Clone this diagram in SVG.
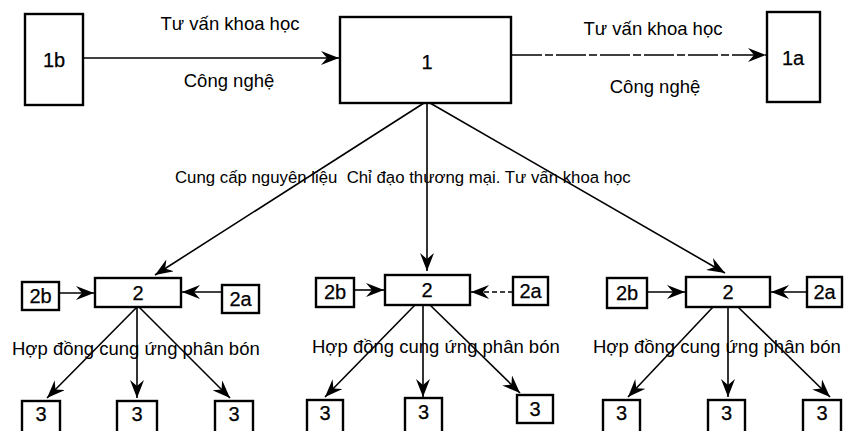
<svg xmlns="http://www.w3.org/2000/svg" width="844" height="431" viewBox="0 0 844 431">
<defs>
<marker id="ah" markerUnits="userSpaceOnUse" markerWidth="20" markerHeight="14" refX="18" refY="7" orient="auto">
<path d="M0,0 L18,7 L0,14 L6,7 z" fill="#000"/>
</marker>
<style>
.box{fill:#fff;stroke:#000;stroke-width:2.4}
.ln{fill:none;stroke:#000;stroke-width:1.6;marker-end:url(#ah)}
.t{font-family:"Liberation Sans",Arial,sans-serif;font-size:18.5px;fill:#000}
.m{font-size:16.8px;white-space:pre}
.n{font-family:"Liberation Sans",Arial,sans-serif;font-size:20px;fill:#000;text-anchor:middle;stroke:#000;stroke-width:0.25}
.c{text-anchor:middle}
</style>
</defs>
<rect width="844" height="431" fill="#fff"/>
<g id="connectors">
<line class="ln" x1="83" y1="58" x2="339" y2="58"/>
<line class="ln" x1="512" y1="55" x2="766" y2="55" stroke-dasharray="30,3,8,3"/>
<line class="ln" x1="424" y1="103" x2="155" y2="275"/>
<line class="ln" x1="427" y1="103" x2="427" y2="271"/>
<line class="ln" x1="430" y1="103" x2="725" y2="273"/>
<line class="ln" x1="59" y1="293" x2="94" y2="293"/>
<line class="ln" x1="222" y1="292" x2="182" y2="292"/>
<line class="ln" x1="137" y1="307" x2="47" y2="398"/>
<line class="ln" x1="137" y1="307" x2="137" y2="398"/>
<line class="ln" x1="139" y1="307" x2="230" y2="398"/>
<line class="ln" x1="354" y1="290" x2="384" y2="290"/>
<line class="ln" x1="513" y1="292" x2="471" y2="292" stroke-dasharray="5,3"/>
<line class="ln" x1="415" y1="305" x2="325" y2="397"/>
<line class="ln" x1="423" y1="305" x2="423" y2="397"/>
<line class="ln" x1="430" y1="305" x2="520" y2="393"/>
<line class="ln" x1="647" y1="292" x2="685" y2="292"/>
<line class="ln" x1="807" y1="292" x2="771" y2="292"/>
<line class="ln" x1="713" y1="307" x2="628" y2="397"/>
<line class="ln" x1="728" y1="307" x2="728" y2="397"/>
<line class="ln" x1="738" y1="307" x2="830" y2="397"/>
</g>
<g id="labels">
<text class="t c" x="230" y="30">Tư vấn khoa học</text>
<text class="t c" x="229" y="87">Công nghệ</text>
<text class="t c" x="653" y="35">Tư vấn khoa học</text>
<text class="t c" x="655" y="93">Công nghệ</text>
<text class="t m" x="175" y="183" xml:space="preserve">Cung cấp nguyên liệu  Chỉ đạo thương mại. Tư vấn khoa học</text>
<text class="t" x="12" y="355">Hợp đồng cung ứng phân bón</text>
<text class="t" x="312" y="353">Hợp đồng cung ứng phân bón</text>
<text class="t" x="593" y="353">Hợp đồng cung ứng phân bón</text>
</g>
<g id="n1b"><rect class="box" x="25" y="14" width="58" height="91"/><text class="n" x="54" y="67">1b</text></g>
<g id="n1"><rect class="box" x="340" y="17" width="171" height="86"/><text class="n" x="427" y="69">1</text></g>
<g id="n1a"><rect class="box" x="767" y="12" width="53" height="90"/><text class="n" x="793" y="65">1a</text></g>
<g id="g1-2b"><rect class="box" x="22" y="282" width="37" height="28"/><text class="n" x="40.5" y="303">2b</text></g>
<g id="g1-2"><rect class="box" x="95" y="278" width="86" height="29"/><text class="n" x="138" y="300">2</text></g>
<g id="g1-2a"><rect class="box" x="222" y="285" width="37" height="28"/><text class="n" x="240.5" y="306">2a</text></g>
<g id="g1-3a"><rect class="box" x="22" y="401" width="38" height="34"/><text class="n" x="41" y="421">3</text></g>
<g id="g1-3b"><rect class="box" x="117" y="401" width="40" height="34"/><text class="n" x="137" y="421">3</text></g>
<g id="g1-3c"><rect class="box" x="215" y="401" width="38" height="34"/><text class="n" x="234" y="421">3</text></g>
<g id="g2-2b"><rect class="box" x="316" y="278" width="38" height="29"/><text class="n" x="335" y="299">2b</text></g>
<g id="g2-2"><rect class="box" x="385" y="275" width="85" height="30"/><text class="n" x="427" y="297">2</text></g>
<g id="g2-2a"><rect class="box" x="513" y="277" width="35" height="28"/><text class="n" x="530.5" y="298">2a</text></g>
<g id="g2-3a"><rect class="box" x="307" y="400" width="36" height="35"/><text class="n" x="325" y="420">3</text></g>
<g id="g2-3b"><rect class="box" x="405" y="398" width="37" height="37"/><text class="n" x="423.5" y="419">3</text></g>
<g id="g2-3c"><rect class="box" x="517" y="395" width="36" height="28"/><text class="n" x="535" y="416">3</text></g>
<g id="g3-2b"><rect class="box" x="607" y="278" width="40" height="30"/><text class="n" x="627" y="300">2b</text></g>
<g id="g3-2"><rect class="box" x="686" y="277" width="84" height="30"/><text class="n" x="728" y="299">2</text></g>
<g id="g3-2a"><rect class="box" x="807" y="277" width="35" height="30"/><text class="n" x="824.5" y="299">2a</text></g>
<g id="g3-3a"><rect class="box" x="603" y="400" width="37" height="35"/><text class="n" x="621.5" y="420">3</text></g>
<g id="g3-3b"><rect class="box" x="708" y="400" width="37" height="35"/><text class="n" x="726.5" y="420">3</text></g>
<g id="g3-3c"><rect class="box" x="803" y="400" width="38" height="35"/><text class="n" x="822" y="420">3</text></g>
</svg>
